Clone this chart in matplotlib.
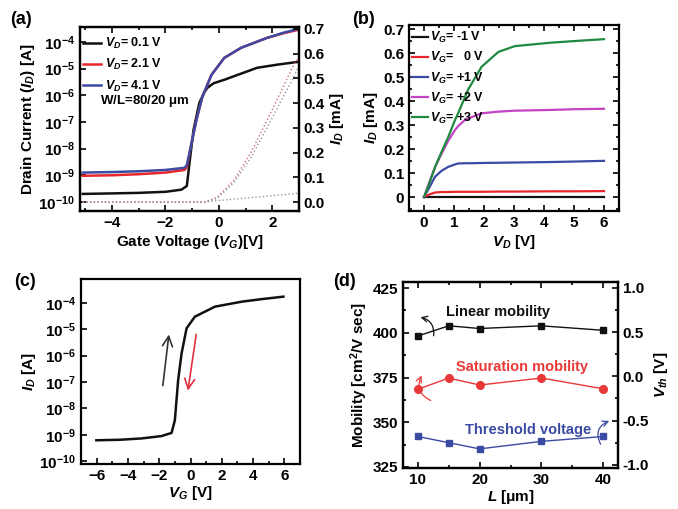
import numpy as np
import matplotlib
matplotlib.use("Agg")
import matplotlib.pyplot as plt
from matplotlib.ticker import LogFormatterMathtext, MultipleLocator, FixedLocator

plt.rcParams['font.family'] = ['Liberation Sans', 'DejaVu Sans']
plt.rcParams['font.weight'] = 'bold'
plt.rcParams['axes.labelweight'] = 'bold'
plt.rcParams['mathtext.fontset'] = 'custom'
plt.rcParams['mathtext.rm'] = 'Liberation Sans:bold'
plt.rcParams['mathtext.it'] = 'Liberation Sans:bold:italic'
plt.rcParams['mathtext.bf'] = 'Liberation Sans:bold'
plt.rcParams['mathtext.default'] = 'rm'
plt.rcParams['axes.linewidth'] = 1.6

# ---------------- data ----------------
# (a) transfer curves (log ID vs VG)
vg_a_low = [-5.1, -4.0, -3.0, -2.0, -1.4, -1.2, -1.1, -0.95, -0.73, -0.55, -0.43, -0.2, 0.2, 0.8, 1.43, 2.2, 2.95]
logid_01 = [-9.70, -9.68, -9.66, -9.62, -9.54, -9.40, -8.53, -7.30, -6.28, -5.90, -5.72, -5.55, -5.42, -5.20, -4.97, -4.85, -4.75]
vg_a_hi = [-5.1, -4.0, -3.0, -2.0, -1.29, -1.2, -1.1, -0.84, -0.62, -0.28, 0.2, 0.83, 1.8, 2.4, 2.95]
logid_21 = [-9.02, -9.00, -8.96, -8.90, -8.80, -8.70, -8.16, -6.92, -6.06, -5.24, -4.60, -4.22, -3.85, -3.68, -3.55]
logid_41 = [-8.90, -8.88, -8.85, -8.80, -8.72, -8.62, -8.16, -6.92, -6.06, -5.24, -4.60, -4.22, -3.85, -3.66, -3.52]
# (a) linear ID [mA] on right axis (dotted)
vg_lin = [-5.1, -3.0, -1.0, -0.54, -0.06, 0.57, 1.2, 1.8, 2.43, 2.73, 2.95]
idlin_01 = [0.0, 0.0, 0.0, 0.0, 0.006, 0.012, 0.018, 0.024, 0.030, 0.033, 0.036]
idlin_21 = [0.0, 0.0, 0.0, 0.0, 0.02, 0.09, 0.20, 0.33, 0.47, 0.54, 0.58]
idlin_41 = [0.0, 0.0, 0.0, 0.0, 0.015, 0.08, 0.18, 0.30, 0.43, 0.49, 0.54]
vd_labels = ['0.1', '2.1', '4.1']

# (b) output curves
vd_b = [0.0, 0.2, 0.37, 0.59, 0.81, 1.03, 1.14, 1.37, 1.48, 1.92, 2.48, 3.03, 4.2, 5.0, 6.0]
id_m1 = [0.0, 0.0, 0.0, 0.0, 0.0, 0.0, 0.0, 0.0, 0.0, 0.0, 0.0, 0.0, 0.0, 0.0, 0.0]
id_0 = [0.0, 0.012, 0.019, 0.021, 0.021, 0.022, 0.022, 0.022, 0.022, 0.022, 0.023, 0.023, 0.024, 0.024, 0.025]
id_p1 = [0.0, 0.045, 0.085, 0.110, 0.126, 0.136, 0.140, 0.141, 0.141, 0.142, 0.143, 0.144, 0.146, 0.148, 0.151]
id_p2 = [0.0, 0.070, 0.125, 0.182, 0.235, 0.279, 0.296, 0.322, 0.328, 0.349, 0.356, 0.360, 0.363, 0.366, 0.368]
id_p3 = [0.0, 0.065, 0.126, 0.190, 0.251, 0.320, 0.350, 0.418, 0.450, 0.543, 0.605, 0.629, 0.643, 0.650, 0.658]
vg_labels = ['-1', '  0', '+1', '+2', '+3']

# (c) transfer curve
vg_c = [-6.02, -4.5, -3.13, -1.85, -1.21, -1.0, -0.79, -0.57, -0.25, 0.28, 1.56, 3.28, 4.6, 5.94]
logid_c = [-9.21, -9.19, -9.14, -9.05, -8.93, -8.45, -6.93, -5.91, -4.96, -4.52, -4.14, -3.95, -3.85, -3.76]

# (d) mobility vs L
L_um = [10, 15, 20, 30, 40]
mu_lin = [398.2, 403.9, 402.4, 403.9, 401.4]
mu_sat = [368.4, 374.7, 370.8, 374.7, 368.7]
vth = [-0.68, -0.75, -0.82, -0.735, -0.68]

# ---------------- figure ----------------
W, H = 678, 509
fig = plt.figure(figsize=(W / 100, H / 100), dpi=100)


def ax_px(l, r, t, b):
    return fig.add_axes([l / W, (H - b) / H, (r - l) / W, (b - t) / H])


BLK = '#111111'
RED = '#e8262b'
BLU = '#3b4aa3'
MAG = '#c443c4'
GRN = '#1f8a3f'
FS = 11


def style(ax):
    ax.tick_params(direction='in', which='both', labelsize=FS, width=1.2)
    ax.tick_params(which='major', length=4)
    ax.tick_params(which='minor', length=2.5)


# ---- (a) ----
axa = ax_px(80, 299, 27, 211)
axa.plot(vg_a_low, 10 ** np.array(logid_01), color=BLK, lw=1.8, label=r'$\mathit{V_D}$= ' + vd_labels[0] + ' V')
axa.plot(vg_a_hi, 10 ** np.array(logid_21), color=RED, lw=1.8, label=r'$\mathit{V_D}$= ' + vd_labels[1] + ' V')
axa.plot(vg_a_hi, 10 ** np.array(logid_41), color=BLU, lw=1.8, label=r'$\mathit{V_D}$= ' + vd_labels[2] + ' V')
axa.set_yscale('log')
axa.set_ylim(10 ** -10.34, 10 ** -3.44)
axa.set_xlim(-5.2, 3.0)
axa.yaxis.set_major_locator(FixedLocator([10.0 ** k for k in range(-10, -3)]))
axa.yaxis.set_minor_locator(FixedLocator([]))
axa.yaxis.set_major_formatter(LogFormatterMathtext())
axa.xaxis.set_major_locator(MultipleLocator(2))
axa.xaxis.set_minor_locator(MultipleLocator(1))
style(axa)
axa.tick_params(top=True, which='both')
axa.set_xlabel(r'Gate Voltage ($\mathit{V_G}$)[V]', fontsize=FS, labelpad=2)
axa.set_ylabel(r'Drain Current ($\mathit{I_D}$) [A]', fontsize=FS, labelpad=1)
axa.legend(loc='upper left', bbox_to_anchor=(0.0, 0.965), frameon=False, fontsize=9, handlelength=1.5,
           handletextpad=0.3, labelspacing=0.5, borderaxespad=0.0, borderpad=0.2)
axa.text(0.09, 0.58, r'W/L=80/20 $\mathrm{\mu}$m', transform=axa.transAxes, fontsize=9.5, fontweight='bold')
axa2 = axa.twinx()
axa2.plot(vg_lin, idlin_01, color='#999999', lw=1.0, ls=':')
axa2.plot(vg_lin, idlin_21, color='#d07080', lw=1.0, ls=':')
axa2.plot(vg_lin, idlin_41, color='#a090b0', lw=1.0, ls=':')
axa2.set_ylim(-0.036, 0.708)
axa2.yaxis.set_major_locator(MultipleLocator(0.1))
axa2.yaxis.set_major_formatter(matplotlib.ticker.FormatStrFormatter('%.1f'))
style(axa2)
axa2.set_ylabel(r'$\mathit{I_D}$ [mA]', fontsize=FS, labelpad=2)
fig.text(10 / W, 1 - 20 / H, '(a)', fontsize=13, fontweight='bold', va='center')

# ---- (b) ----
axb = ax_px(409, 619, 25, 211)
cols_b = [BLK, RED, BLU, MAG, GRN]
for ser, c, lab in zip([id_m1, id_0, id_p1, id_p2, id_p3], cols_b, vg_labels):
    axb.plot(vd_b, ser, color=c, lw=1.6, label=r'$\mathit{V_G}$= ' + lab + ' V')
axb.set_xlim(-0.5, 6.5)
axb.set_ylim(-0.058, 0.717)
axb.xaxis.set_major_locator(MultipleLocator(1))
axb.xaxis.set_minor_locator(MultipleLocator(0.5))
axb.yaxis.set_major_locator(MultipleLocator(0.1))
axb.yaxis.set_minor_locator(MultipleLocator(0.05))
axb.yaxis.set_major_formatter(matplotlib.ticker.FuncFormatter(lambda v, p: '0' if abs(v) < 1e-9 else f'{v:.1f}'))
style(axb)
axb.tick_params(top=True, right=True, which='both')
axb.set_xlabel(r'$\mathit{V_D}$ [V]', fontsize=FS, labelpad=2)
axb.set_ylabel(r'$\mathit{I_D}$ [mA]', fontsize=FS, labelpad=2)
axb.legend(loc='upper left', bbox_to_anchor=(0.0, 0.985), frameon=False, fontsize=9, handlelength=1.3,
           handletextpad=0.2, labelspacing=0.4, borderaxespad=0.0, borderpad=0.2)
fig.text(352 / W, 1 - 20 / H, '(b)', fontsize=13, fontweight='bold', va='center')

# ---- (c) ----
axc = ax_px(81, 300, 279, 464)
axc.plot(vg_c, 10 ** np.array(logid_c), color=BLK, lw=1.8)
axc.set_yscale('log')
axc.set_ylim(10 ** -10.11, 10 ** -3.09)
axc.set_xlim(-7.0, 7.0)
axc.yaxis.set_major_locator(FixedLocator([10.0 ** k for k in range(-10, -3)]))
axc.yaxis.set_minor_locator(FixedLocator([]))
axc.yaxis.set_major_formatter(LogFormatterMathtext())
axc.xaxis.set_major_locator(MultipleLocator(2))
axc.xaxis.set_minor_locator(MultipleLocator(1))
style(axc)
axc.annotate('', xy=(-1.36, 10 ** -5.09), xytext=(-1.79, 10 ** -7.24),
             arrowprops=dict(arrowstyle='->', color='#333333', lw=1.2, mutation_scale=18))
axc.annotate('', xy=(-0.19, 10 ** -7.43), xytext=(0.39, 10 ** -5.09),
             arrowprops=dict(arrowstyle='->', color='#e03040', lw=1.2, mutation_scale=18))
axc.set_xlabel(r'$\mathit{V_G}$ [V]', fontsize=FS, labelpad=1)
axc.set_ylabel(r'$\mathit{I_D}$ [A]', fontsize=FS, labelpad=1)
fig.text(14 / W, 1 - 281 / H, '(c)', fontsize=13, fontweight='bold', va='center')

# ---- (d) ----
axd = ax_px(403, 618, 282, 468)
axd.plot(L_um, mu_lin, color=BLK, lw=1.0, marker='s', ms=5)
axd.plot(L_um, mu_sat, color='#e83838', lw=1.0, marker='o', ms=5.5)
axd.set_xlim(7.6, 42.4)
axd.set_ylim(324.4, 428.4)
axd.xaxis.set_major_locator(MultipleLocator(10))
axd.xaxis.set_minor_locator(MultipleLocator(5))
axd.yaxis.set_major_locator(MultipleLocator(25))
axd.yaxis.set_minor_locator(MultipleLocator(12.5))
style(axd)
axd.tick_params(top=True, which='both')
axd.set_xlabel(r'$\mathit{L}$ [$\mathrm{\mu}$m]', fontsize=FS, labelpad=1)
axd.set_ylabel(r'Mobility [cm$^2$/V sec]', fontsize=FS, labelpad=2)
axd2 = axd.twinx()
axd2.plot(L_um, vth, color=BLU, lw=1.0, marker='s', ms=5)
axd2.set_ylim(-1.036, 1.066)
axd2.yaxis.set_major_locator(MultipleLocator(0.5))
axd2.yaxis.set_minor_locator(MultipleLocator(0.25))
axd2.yaxis.set_major_formatter(matplotlib.ticker.FormatStrFormatter('%.1f'))
style(axd2)
axd2.set_ylabel(r'$\mathit{V_{th}}$ [V]', fontsize=FS, labelpad=2)
axd.text(23.0, 411.8, 'Linear mobility', color=BLK, fontsize=10.5, fontweight='bold', ha='center', va='center')
axd.text(26.8, 381.0, 'Saturation mobility', color='#e83838', fontsize=10.5, fontweight='bold', ha='center', va='center')
axd.text(27.9, 345.7, 'Threshold voltage', color=BLU, fontsize=10.5, fontweight='bold', ha='center', va='center')
axd.annotate('', xy=(10.0, 409.0), xytext=(12.5, 396.8),
             arrowprops=dict(arrowstyle='->', color=BLK, lw=0.9, connectionstyle='arc3,rad=0.5'))
axd.annotate('', xy=(10.8, 377.5), xytext=(12.5, 361.5),
             arrowprops=dict(arrowstyle='->', color='#e83838', lw=0.9, connectionstyle='arc3,rad=-0.55'))
axd.annotate('', xy=(41.4, 351.3), xytext=(39.8, 336.3),
             arrowprops=dict(arrowstyle='->', color=BLU, lw=0.9, connectionstyle='arc3,rad=-0.6'))
fig.text(333 / W, 1 - 281 / H, '(d)', fontsize=13, fontweight='bold', va='center')

fig.savefig('out.png', dpi=100)
